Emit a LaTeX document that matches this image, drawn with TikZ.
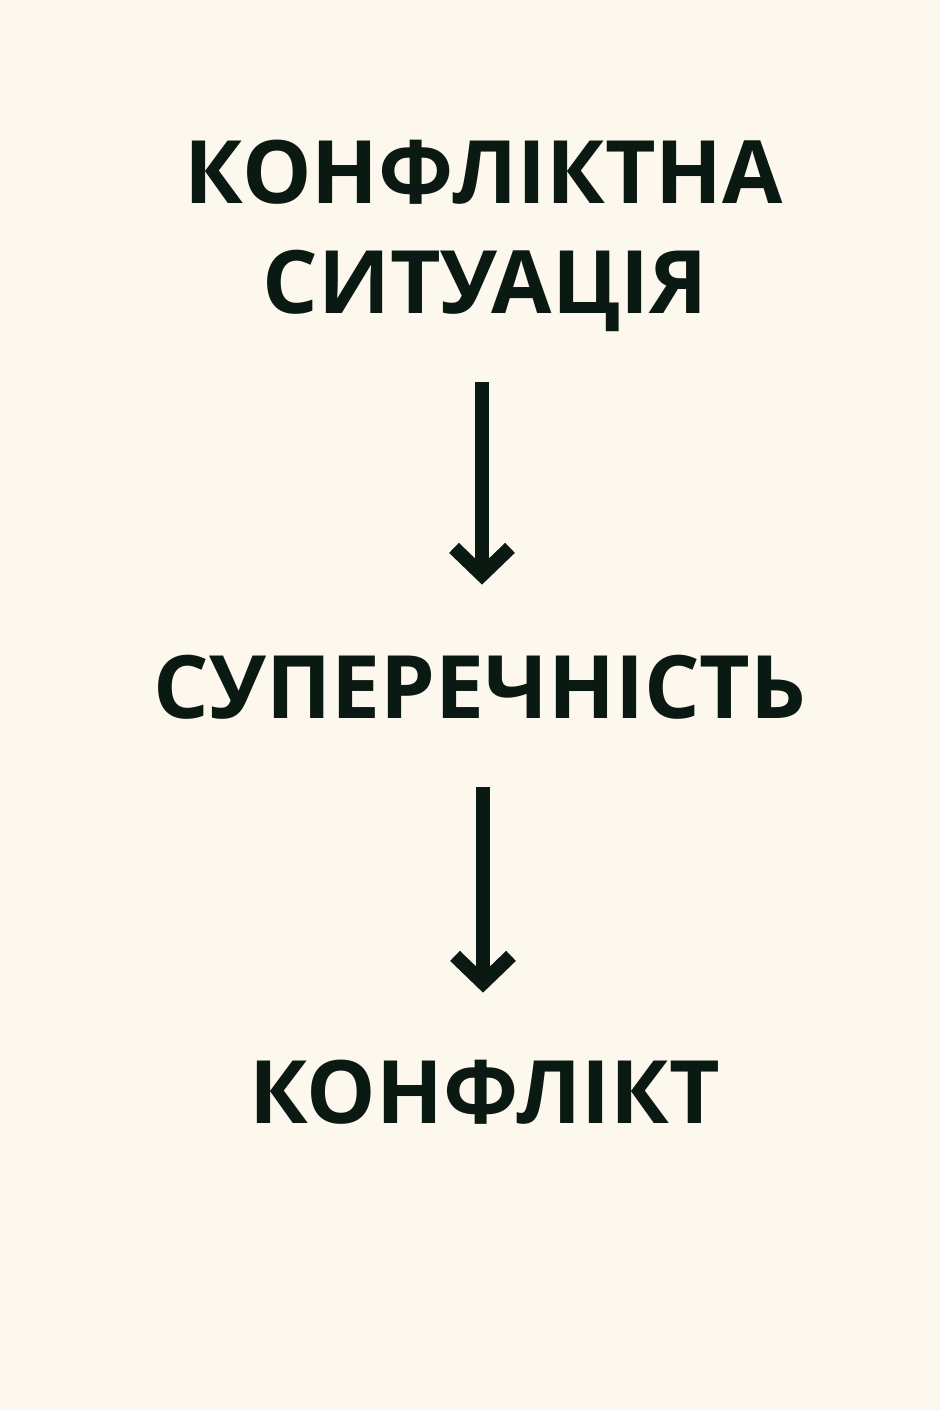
\documentclass[tikz,border=0pt]{standalone}
\usepackage{fontspec}
\setmainfont{Open Sans}
\usetikzlibrary{arrows.meta}
\definecolor{bg}{HTML}{FDF8EE}
\definecolor{ink}{HTML}{0A1912}
\begin{document}
\begin{tikzpicture}[x=1pt,y=-1pt,
  lbl/.style={inner sep=0pt, text=ink, font=\fontsize{87.5}{87.5}\selectfont\bfseries, text height=65pt, text depth=0pt, anchor=south},
  arr/.style={draw=ink, line width=14pt, -{Straight Barb[length=27pt,width=56pt,line width=14pt,sharp]}}]
\fill[bg] (0,0) rectangle (940,1410);
\useasboundingbox (0,0) rectangle (940,1410);
\node[lbl] (l1) at (484,204) {КОНФЛІКТНА};
\node[lbl] (l2) at (485,314) {СИТУАЦІЯ};
\node[lbl] (sup) at (480,719) {СУПЕРЕЧНІСТЬ};
\node[lbl] (kon) at (485,1124) {КОНФЛІКТ};
\draw[arr, shorten <=68pt, shorten >=69pt] (l2.south -| 482,0) -- (sup.north -| 482,0);
\draw[arr, shorten <=68pt, shorten >=66pt] (sup.south -| 483,0) -- (kon.north -| 483,0);
\end{tikzpicture}
\end{document}
